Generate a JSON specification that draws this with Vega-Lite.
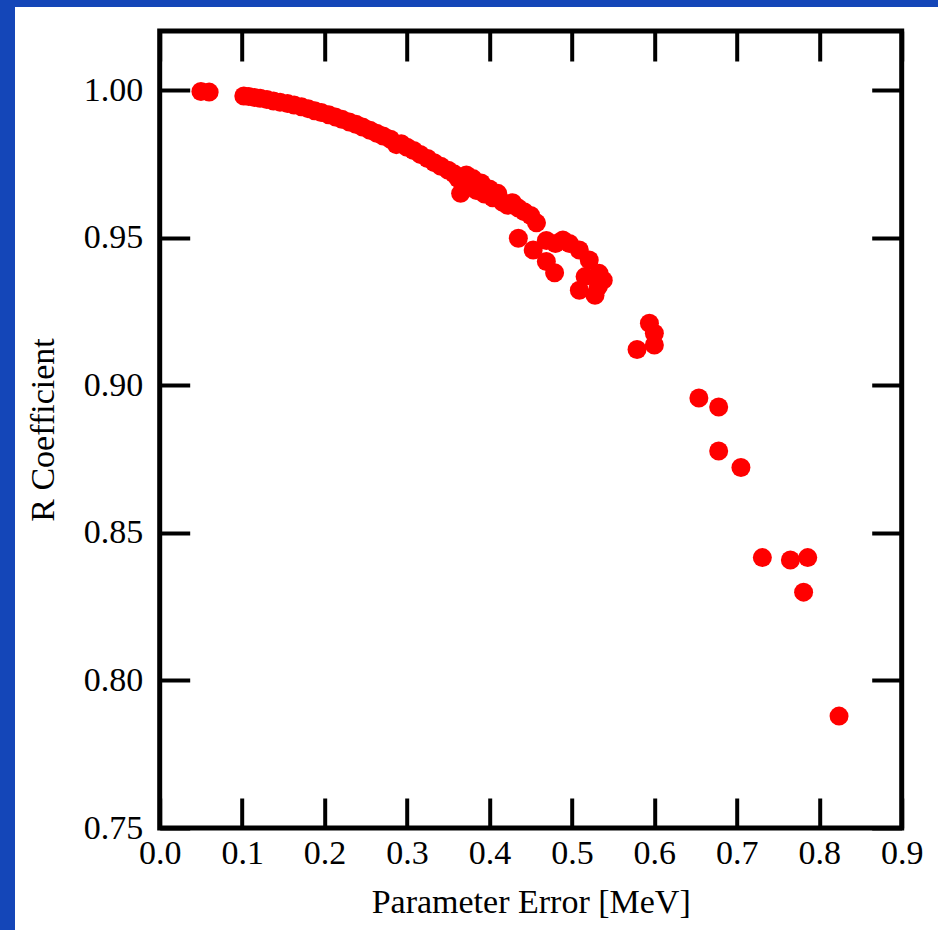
{
  "$schema": "https://vega.github.io/schema/vega-lite/v6.json",
  "background": "white",
  "padding": 0,
  "spacing": 0,
  "bounds": "flush",
  "config": {"view": {"stroke": null}, "font": "Liberation Serif"},
  "hconcat": [
    {
      "width": 15, "height": 930,
      "data": {"values": [{"strip": "left"}]},
      "mark": {"type": "rect", "color": "#1446B8"},
      "encoding": {},
      "view": {"fill": "#1446B8", "stroke": null}
    },
    {
      "bounds": "flush",
      "spacing": 24,
      "vconcat": [
        {
          "width": 923, "height": 7,
          "data": {"values": [{"strip": "top"}]},
          "mark": {"type": "rect", "color": "#1446B8"},
          "encoding": {},
          "view": {"fill": "#1446B8", "stroke": null}
        },
        {
          "bounds": "flush",
          "spacing": 143.7,
          "hconcat": [
            {
              "width": 1, "height": 1,
              "data": {"values": [{"spacer": 1}]},
              "mark": {"type": "rect", "opacity": 0},
              "encoding": {},
              "view": {"stroke": null}
            },
            {
              "width": 742, "height": 797,
              "view": {"stroke": "black", "strokeWidth": 5},
              "data": {"values": [
                {"x":0.050,"r":0.9995},{"x":0.060,"r":0.9993},
                {"x":0.102,"r":0.9980},{"x":0.108,"r":0.9978},{"x":0.115,"r":0.9975},{"x":0.122,"r":0.9972},
                {"x":0.130,"r":0.9968},{"x":0.138,"r":0.9963},{"x":0.146,"r":0.9959},{"x":0.155,"r":0.9954},
                {"x":0.163,"r":0.9949},{"x":0.172,"r":0.9943},{"x":0.180,"r":0.9937},{"x":0.188,"r":0.9930},
                {"x":0.196,"r":0.9924},{"x":0.205,"r":0.9916},{"x":0.213,"r":0.9909},{"x":0.221,"r":0.9901},
                {"x":0.230,"r":0.9892},{"x":0.238,"r":0.9884},{"x":0.246,"r":0.9875},{"x":0.255,"r":0.9864},
                {"x":0.263,"r":0.9854},{"x":0.271,"r":0.9844},{"x":0.280,"r":0.9833},{"x":0.287,"r":0.9815},
                {"x":0.293,"r":0.9818},{"x":0.300,"r":0.9806},{"x":0.308,"r":0.9795},{"x":0.316,"r":0.9782},
                {"x":0.325,"r":0.9768},{"x":0.333,"r":0.9754},{"x":0.341,"r":0.9742},{"x":0.350,"r":0.9728},
                {"x":0.357,"r":0.9716},{"x":0.362,"r":0.9700},{"x":0.365,"r":0.9650},{"x":0.368,"r":0.9690},
                {"x":0.372,"r":0.9712},{"x":0.376,"r":0.9672},{"x":0.380,"r":0.9700},{"x":0.384,"r":0.9660},
                {"x":0.390,"r":0.9685},{"x":0.394,"r":0.9648},{"x":0.400,"r":0.9665},{"x":0.404,"r":0.9635},
                {"x":0.410,"r":0.9650},{"x":0.416,"r":0.9620},{"x":0.422,"r":0.9610},{"x":0.428,"r":0.9618},
                {"x":0.435,"r":0.9600},{"x":0.442,"r":0.9588},{"x":0.450,"r":0.9575},{"x":0.457,"r":0.9550},
                {"x":0.435,"r":0.9498},{"x":0.453,"r":0.9458},{"x":0.469,"r":0.9419},{"x":0.479,"r":0.9381},
                {"x":0.469,"r":0.9490},{"x":0.480,"r":0.9480},{"x":0.489,"r":0.9492},{"x":0.497,"r":0.9480},
                {"x":0.509,"r":0.9458},{"x":0.521,"r":0.9424},{"x":0.533,"r":0.9379},{"x":0.538,"r":0.9356},
                {"x":0.532,"r":0.9334},{"x":0.509,"r":0.9322},{"x":0.528,"r":0.9305},{"x":0.516,"r":0.9368},
                {"x":0.594,"r":0.9210},{"x":0.600,"r":0.9176},{"x":0.600,"r":0.9136},{"x":0.579,"r":0.9121},
                {"x":0.654,"r":0.8957},{"x":0.678,"r":0.8926},{"x":0.678,"r":0.8777},{"x":0.705,"r":0.8721},
                {"x":0.731,"r":0.8416},{"x":0.765,"r":0.8408},{"x":0.786,"r":0.8416},{"x":0.781,"r":0.8299},
                {"x":0.824,"r":0.7879}
              ]},
              "layer": [
                {
                  "mark": {"type": "circle", "opacity": 0},
                  "encoding": {
                    "x": {"field": "x", "type": "quantitative",
                      "scale": {"domain": [0, 0.9], "nice": false, "zero": false},
                      "axis": {"orient": "top", "values": [0,0.1,0.2,0.3,0.4,0.5,0.6,0.7,0.8,0.9], "labels": false, "title": null,
                        "domain": false, "grid": false, "tickSize": -30, "tickWidth": 4, "tickColor": "black"}},
                    "y": {"field": "r", "type": "quantitative",
                      "scale": {"domain": [0.75, 1.02], "nice": false, "zero": false},
                      "axis": {"orient": "right", "values": [0.75,0.8,0.85,0.9,0.95,1.0], "labels": false, "title": null,
                        "domain": false, "grid": false, "tickSize": -30, "tickWidth": 4, "tickColor": "black"}}
                  }
                },
                {
                  "mark": {"type": "circle", "size": 361, "color": "#FF0000", "opacity": 1},
                  "encoding": {
                    "x": {"field": "x", "type": "quantitative",
                      "scale": {"domain": [0, 0.9], "nice": false, "zero": false},
                      "axis": {"orient": "bottom", "values": [0,0.1,0.2,0.3,0.4,0.5,0.6,0.7,0.8,0.9], "format": ".1f",
                        "title": "Parameter Error [MeV]", "domain": false, "grid": false,
                        "tickSize": -30, "tickWidth": 4, "tickColor": "black",
                        "labelFont": "Liberation Serif", "labelFontSize": 34, "labelColor": "black", "labelPadding": 38,
                        "labelFlush": false, "labelOverlap": false,
                        "titleFont": "Liberation Serif", "titleFontSize": 34, "titleFontWeight": "normal", "titleColor": "black", "titlePadding": 15}},
                    "y": {"field": "r", "type": "quantitative",
                      "scale": {"domain": [0.75, 1.02], "nice": false, "zero": false},
                      "axis": {"orient": "left", "values": [0.75,0.8,0.85,0.9,0.95,1.0], "format": ".2f",
                        "title": "R Coefficient", "domain": false, "grid": false,
                        "tickSize": -30, "tickWidth": 4, "tickColor": "black",
                        "labelFont": "Liberation Serif", "labelFontSize": 34, "labelColor": "black", "labelPadding": 47,
                        "labelFlush": false, "labelOverlap": false,
                        "titleFont": "Liberation Serif", "titleFontSize": 34, "titleFontWeight": "normal", "titleColor": "black", "titlePadding": 23}}
                  }
                }
              ],
              "resolve": {"axis": {"x": "independent", "y": "independent"}}
            }
          ]
        }
      ]
    }
  ]
}
